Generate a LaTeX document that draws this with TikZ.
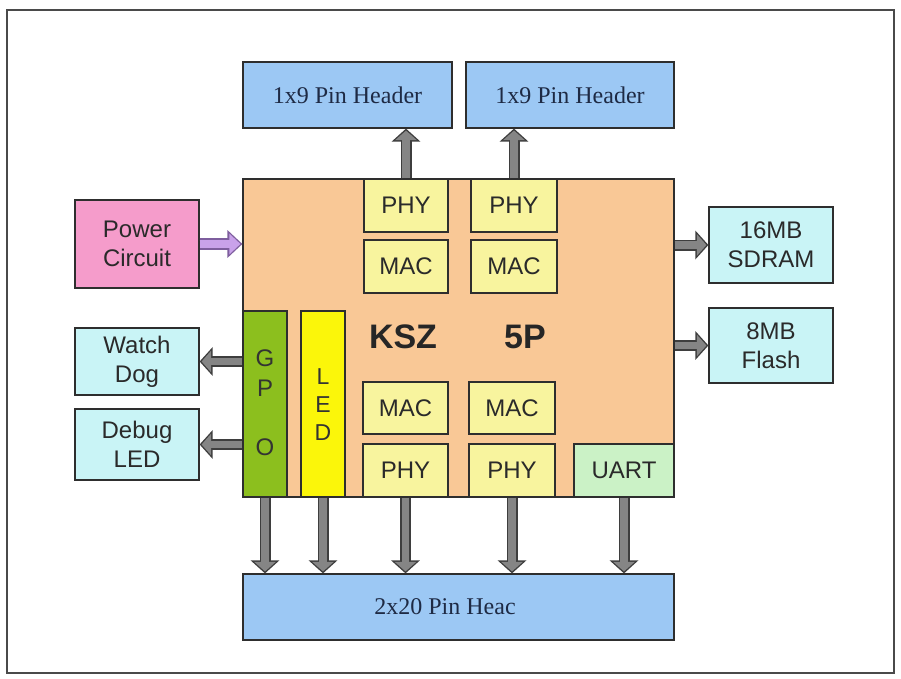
\documentclass[tikz,border=0pt]{standalone}
\usepackage{fontspec}
\setmainfont{Liberation Serif}
\setsansfont{Liberation Sans}
\usetikzlibrary{arrows.meta}
\definecolor{hdrblue}{HTML}{9CC8F4}
\definecolor{chip}{HTML}{F9C896}
\definecolor{phyy}{HTML}{F8F49E}
\definecolor{pwr}{HTML}{F59CCB}
\definecolor{cyanbox}{HTML}{C9F4F6}
\definecolor{uartg}{HTML}{CBF2C6}
\definecolor{gpog}{HTML}{8CBF1E}
\definecolor{ledy}{HTML}{FBF60A}
\definecolor{boxline}{HTML}{2E2E2E}
\definecolor{txt}{HTML}{2A2A2A}
\definecolor{serifcol}{HTML}{1E2A44}
\definecolor{arrline}{HTML}{3E3E3E}
\definecolor{arrfill}{HTML}{858585}
\definecolor{pline}{HTML}{7E5E9E}
\definecolor{pfill}{HTML}{C9A2EA}
\definecolor{framecol}{HTML}{4A4A4A}
\begin{document}
\begin{tikzpicture}[x=1pt,y=-1pt,
  blk/.style={draw=boxline, line width=1.2pt, inner sep=0pt, align=center,
    font=\sffamily\fontsize{24}{29}\selectfont, text=txt},
  hdrbox/.style={blk, fill=hdrblue, minimum height=66pt,
    font=\fontsize{24}{29}\selectfont, text=serifcol},
  cellbox/.style={blk, fill=phyy},
  sidebox/.style={blk, fill=cyanbox, minimum width=124pt},
  lbl/.style={inner sep=0pt, align=center, text=txt,
    font=\sffamily\fontsize{24}{29.5}\selectfont},
  garrow/.style={line width=11pt, draw=arrline, -{Triangle[width=28pt,length=13pt]},
    postaction={draw=arrfill, line width=7.5pt, -{Triangle[width=21pt,length=9.5pt]}, shorten >=2pt}},
  parrow/.style={line width=12pt, draw=pline, -{Triangle[width=27pt,length=15pt]},
    postaction={draw=pfill, line width=8.5pt, -{Triangle[width=20pt,length=11pt]}, shorten >=2pt}}
]
\path[fill=white, use as bounding box] (0,0) rectangle (901,679);
\draw[line width=1.6pt, draw=framecol] (7,10) rectangle (894,673);

% headers
\node[hdrbox, minimum width=209pt] (hdr1) at (347.5,95) {1x9 Pin Header};
\node[hdrbox, minimum width=208pt] (hdr2) at (570,95) {1x9 Pin Header};
\node[hdrbox, minimum width=431pt] (hdr3) at (458.5,607) {};
\node[inner sep=0pt, font=\fontsize{24}{29}\selectfont, text=serifcol] (hdr3t) at (445,607) {2x20 Pin Heac};

% main chip
\node[blk, fill=chip, minimum width=431pt, minimum height=318pt] (chipm) at (458.5,338) {};
\node[inner sep=0pt, font=\sffamily\bfseries\fontsize{34}{40}\selectfont, text=black!85] (kszA) at (403,337) {KSZ};
\node[inner sep=0pt, font=\sffamily\bfseries\fontsize{34}{40}\selectfont, text=black!85] (kszB) at (525,337) {5P};

% PHY / MAC cells
\node[cellbox, minimum width=84pt, minimum height=53pt] (phy1) at (406,205.5) {PHY};
\node[cellbox, minimum width=84pt, minimum height=53pt] (mac1) at (406,266.5) {MAC};
\node[cellbox, minimum width=86pt, minimum height=53pt] (phy2) at (514,205.5) {PHY};
\node[cellbox, minimum width=86pt, minimum height=53pt] (mac2) at (514,266.5) {MAC};
\node[cellbox, minimum width=85pt, minimum height=52pt] (mac3) at (405.5,408) {MAC};
\node[cellbox, minimum width=85pt, minimum height=53pt] (phy3) at (405.5,470.5) {PHY};
\node[cellbox, minimum width=86pt, minimum height=52pt] (mac4) at (512,408) {MAC};
\node[cellbox, minimum width=86pt, minimum height=53pt] (phy4) at (512,470.5) {PHY};
\node[blk, fill=uartg, minimum width=100pt, minimum height=53pt] (uart) at (624,470.5) {UART};

% GPO and LED bars
\node[blk, fill=gpog, minimum width=44pt, minimum height=186pt] (gpo) at (265,404) {};
\node[lbl, text=black!80] (gpot) at (265,402.5) {G\\P\\\strut\\O};
\node[blk, fill=ledy, minimum width=44pt, minimum height=186pt] (led) at (323,404) {};
\node[lbl, text=black!80, font=\sffamily\fontsize{23}{28}\selectfont] (ledt) at (323,405) {L\\E\\D};

% side boxes
\node[blk, fill=pwr, minimum width=124pt, minimum height=88pt] (power) at (137,244) {Power\\Circuit};
\node[sidebox, minimum height=67pt] (wd) at (137,361.5) {Watch\\Dog};
\node[sidebox, minimum height=71pt] (dbg) at (137,444.5) {Debug\\LED};
\node[sidebox, minimum height=76pt] (sdram) at (771,245) {16MB\\SDRAM};
\node[sidebox, minimum height=75pt] (flash) at (771,345.5) {8MB\\Flash};

% arrows
\draw[parrow] (power.east) -- (power.east -| chipm.west);
\draw[garrow] (phy1.north) -- (phy1.north |- hdr1.south);
\draw[garrow] (phy2.north) -- (phy2.north |- hdr2.south);
\draw[garrow] (chipm.east |- sdram.west) -- (sdram.west);
\draw[garrow] (chipm.east |- flash.west) -- (flash.west);
\draw[garrow] (gpo.west |- wd.east) -- (wd.east);
\draw[garrow] (gpo.west |- dbg.east) -- (dbg.east);
\draw[garrow] (gpo.south) -- (gpo.south |- hdr3.north);
\draw[garrow] (led.south) -- (led.south |- hdr3.north);
\draw[garrow] (phy3.south) -- (phy3.south |- hdr3.north);
\draw[garrow] (phy4.south) -- (phy4.south |- hdr3.north);
\draw[garrow] (uart.south) -- (uart.south |- hdr3.north);
\end{tikzpicture}
\end{document}
